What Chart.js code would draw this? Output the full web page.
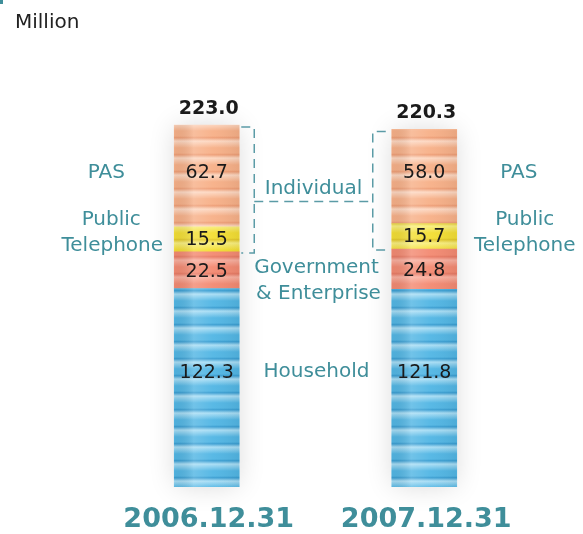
<!DOCTYPE html>
<html>
<head>
<meta charset="utf-8">
<script src="https://cdn.jsdelivr.net/npm/chart.js@4.4.1/dist/chart.umd.min.js"></script>
<style>
  html, body { margin: 0; padding: 0; background: #fff; }
  #wrap { position: relative; width: 583px; height: 534px; }
</style>
</head>
<body>
<div id="wrap"><canvas id="grafico"></canvas></div>
<script>
// dados
const categorias = ['2006.12.31', '2007.12.31'];
const household = [122.3, 121.8];
const government = [22.5, 24.8];
const publicPhone = [15.5, 15.7];
const pas = [62.7, 58.0];
const unidade = 'Million';

const TEAL = '#3f8e9a';
const FONT = '"DejaVu Sans", sans-serif';

// listra "sanfonada" de cada cor
function listra(base, claro, escuro) {
  const c = document.createElement('canvas');
  c.width = 4; c.height = 17;
  const g = c.getContext('2d');
  const grad = g.createLinearGradient(0, 0, 0, 17);
  grad.addColorStop(0, base);
  grad.addColorStop(0.1, escuro);
  grad.addColorStop(0.3, claro);
  grad.addColorStop(0.7, base);
  grad.addColorStop(1, base);
  g.fillStyle = grad;
  g.fillRect(0, 0, 4, 17);
  return g.createPattern(c, 'repeat');
}

const estilos = [
  listra('#52b6e4', '#a9def5', '#3a9ed2'),
  listra('#f38a72', '#f9b0a0', '#e87a64'),
  listra('#f3de34', '#f9ef80', '#e3c92a'),
  listra('#f7b088', '#fdd8c2', '#ee9e76')
];

const series = [
  { nome: 'Household', valores: household },
  { nome: 'Government & Enterprise', valores: government },
  { nome: 'Public Telephone', valores: publicPhone },
  { nome: 'PAS', valores: pas }
];

const sombraPlugin = {
  id: 'sombra',
  beforeDatasetsDraw(chart) {
    const ctx = chart.ctx;
    const y = chart.scales.y;
    const meta0 = chart.getDatasetMeta(0);
    ctx.save();
    meta0.data.forEach((bar, i) => {
      const total = series.reduce((s, d) => s + d.valores[i], 0);
      const top = y.getPixelForValue(total);
      const w = bar.width;
      ctx.shadowColor = 'rgba(0,0,0,0.16)';
      ctx.shadowBlur = 28;
      ctx.fillStyle = '#fff';
      ctx.fillRect(bar.x - w / 2 + 2, top + 2, w - 4, bar.base - top - 4);
    });
    ctx.restore();
  },
  afterDatasetsDraw(chart) {
    // brilho horizontal por cima das barras
    const ctx = chart.ctx;
    ctx.save();
    chart.data.datasets.forEach((ds, di) => {
      chart.getDatasetMeta(di).data.forEach(bar => {
        const l = bar.x - bar.width / 2, r = bar.x + bar.width / 2;
        const g = ctx.createLinearGradient(l, 0, r, 0);
        g.addColorStop(0, 'rgba(0,0,0,0.04)');
        g.addColorStop(0.3, 'rgba(255,255,255,0.18)');
        g.addColorStop(0.6, 'rgba(255,255,255,0.04)');
        g.addColorStop(1, 'rgba(0,0,0,0.06)');
        ctx.fillStyle = g;
        ctx.fillRect(l, Math.min(bar.y, bar.base), bar.width, Math.abs(bar.base - bar.y));
      });
    });
    ctx.restore();
  }
};

const rotulosPlugin = {
  id: 'rotulos',
  afterDraw(chart) {
    const ctx = chart.ctx;
    const y = chart.scales.y;
    const barras = chart.getDatasetMeta(0).data;

    ctx.save();
    ctx.textAlign = 'center';
    ctx.textBaseline = 'middle';

    // unidade
    ctx.fillStyle = TEAL;
    ctx.fillRect(0, 0, 3, 4);
    ctx.textAlign = 'left';
    ctx.fillStyle = '#222';
    ctx.font = '20px ' + FONT;
    ctx.fillText(unidade, 15, 23);
    ctx.textAlign = 'center';

    const centro = (di, i) => {
      const el = chart.getDatasetMeta(di).data[i];
      return (el.y + el.base) / 2;
    };
    const ajusteValor = [-15, 2, 1, -3];

    barras.forEach((bar, i) => {
      // totais
      const total = series.reduce((s, d) => s + d.valores[i], 0);
      ctx.fillStyle = '#1a1a1a';
      ctx.font = 'bold 19px ' + FONT;
      ctx.fillText(total.toFixed(1), bar.x + 2, y.getPixelForValue(total) - 16);

      // valores dentro das barras
      ctx.font = '19px ' + FONT;
      series.forEach((s, di) => {
        ctx.fillText(s.valores[i].toFixed(1), bar.x, centro(di, i) + ajusteValor[di]);
      });

      // datas
      ctx.fillStyle = TEAL;
      ctx.font = 'bold 27px ' + FONT;
      ctx.fillText(categorias[i], bar.x + 2, chart.chartArea.bottom + 33);
    });

    // nomes das series
    ctx.fillStyle = TEAL;
    ctx.font = '20px ' + FONT;
    const b0 = barras[0], b1 = barras[1];
    const esq0 = b0.x - b0.width / 2, dir0 = b0.x + b0.width / 2;
    const esq1 = b1.x - b1.width / 2, dir1 = b1.x + b1.width / 2;
    const meio = (dir0 + esq1) / 2 + 1;

    ctx.fillText('PAS', esq0 - 68, centro(3, 0) - 3);
    ctx.fillText('PAS', dir1 + 62, centro(3, 0) - 3);
    ctx.fillText('Public', esq0 - 63, centro(2, 0) - 20);
    ctx.fillText('Telephone', esq0 - 62, centro(2, 0) + 6);
    ctx.fillText('Public', dir1 + 68, centro(2, 0) - 20);
    ctx.fillText('Telephone', dir1 + 68, centro(2, 0) + 6);
    ctx.fillText('Government', meio, centro(1, 0) - 2);
    ctx.fillText('& Enterprise', meio + 2, centro(1, 0) + 24);
    ctx.fillText('Household', meio, centro(0, 0) - 16);

    // colchete "Individual" (PAS + Public Telephone)
    const topo0 = y.getPixelForValue(series.reduce((s, d) => s + d.valores[0], 0));
    const base0 = chart.getDatasetMeta(2).data[0].base;
    const topo1 = y.getPixelForValue(series.reduce((s, d) => s + d.valores[1], 0));
    const base1 = chart.getDatasetMeta(2).data[1].base;
    const xa = dir0 + 15, xb = esq1 - 19;
    const linhaY = (topo0 + base0) / 2 + 13;

    ctx.strokeStyle = '#5b9ba6';
    ctx.lineWidth = 1.5;
    ctx.setLineDash([9, 6]);
    ctx.beginPath();
    ctx.moveTo(dir0 + 2, topo0 + 2); ctx.lineTo(xa, topo0 + 2); ctx.lineTo(xa, base0 + 1); ctx.lineTo(dir0 + 2, base0 + 1);
    ctx.moveTo(xa, linhaY); ctx.lineTo(xb, linhaY);
    ctx.moveTo(esq1 - 6, topo1 + 2); ctx.lineTo(xb, topo1 + 2); ctx.lineTo(xb, base1 + 1); ctx.lineTo(esq1 - 6, base1 + 1);
    ctx.stroke();
    ctx.setLineDash([]);

    ctx.fillStyle = TEAL;
    ctx.font = '20px ' + FONT;
    ctx.fillText('Individual', (xa + xb) / 2, linhaY - 13);

    ctx.restore();
  }
};

new Chart(document.getElementById('grafico'), {
  type: 'bar',
  data: {
    labels: categorias,
    datasets: series.map((s, i) => ({
      label: s.nome,
      data: s.valores,
      backgroundColor: estilos[i],
      borderWidth: 0,
      barThickness: 65
    }))
  },
  options: {
    responsive: true,
    maintainAspectRatio: false,
    animation: false,
    layout: { padding: { left: 98, right: 50, top: 0, bottom: 47 } },
    scales: {
      x: { stacked: true, display: false },
      y: { stacked: true, display: false, min: 0, max: 300 }
    },
    plugins: {
      legend: { display: false },
      tooltip: { enabled: false }
    }
  },
  plugins: [sombraPlugin, rotulosPlugin]
});
</script>
</body>
</html>
